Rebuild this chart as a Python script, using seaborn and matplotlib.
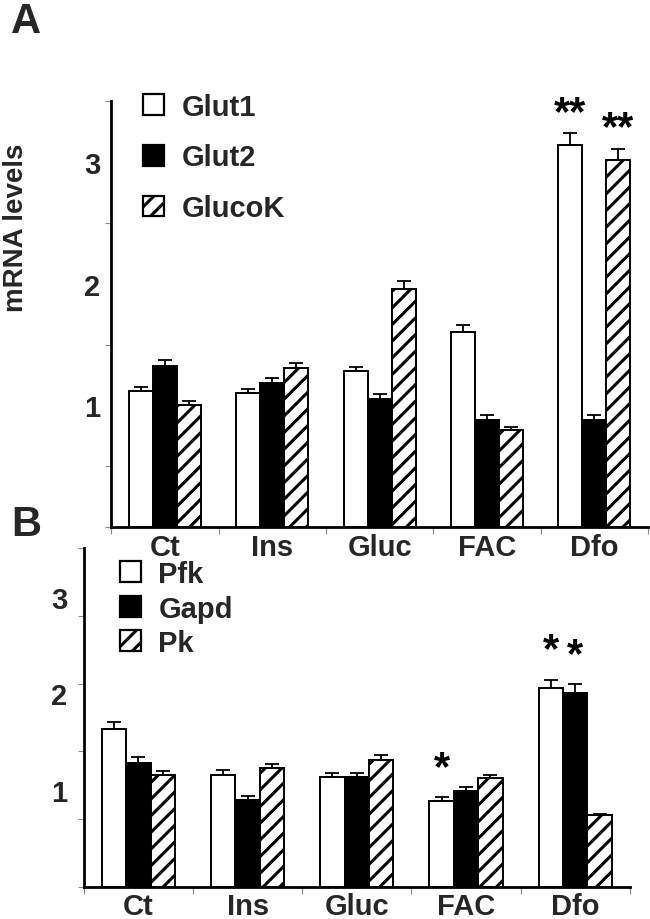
import numpy as np
import pandas as pd
import matplotlib
matplotlib.use("Agg")
import matplotlib.pyplot as plt
import seaborn as sns
from matplotlib.patches import Patch
from matplotlib.container import BarContainer

sns.set_theme(style="ticks")
plt.rcParams['font.family'] = ['Liberation Sans', 'DejaVu Sans']
plt.rcParams['font.weight'] = 'bold'
plt.rcParams['hatch.linewidth'] = 2.2
plt.rcParams['hatch.color'] = 'black'

categories = ["Ct", "Ins", "Gluc", "FAC", "Dfo"]

# Panel A
genes_a = ["Glut1", "Glut2", "GlucoK"]
glut1 = [1.12, 1.10, 1.28, 1.60, 3.14]
glut1_err = [0.035, 0.035, 0.035, 0.058, 0.095]
glut2 = [1.32, 1.18, 1.05, 0.88, 0.88]
glut2_err = [0.05, 0.045, 0.04, 0.037, 0.04]
glucok = [1.00, 1.31, 1.96, 0.80, 3.02]
glucok_err = [0.035, 0.04, 0.058, 0.024, 0.09]
stars_a = {("Dfo", "Glut1"): "**", ("Dfo", "GlucoK"): "**"}

# Panel B
genes_b = ["Pfk", "Gapd", "Pk"]
pfk = [1.63, 1.16, 1.13, 0.89, 2.06]
pfk_err = [0.07, 0.05, 0.045, 0.034, 0.083]
gapd = [1.28, 0.90, 1.13, 0.99, 2.00]
gapd_err = [0.062, 0.04, 0.047, 0.045, 0.097]
pk = [1.16, 1.23, 1.31, 1.12, 0.74]
pk_err = [0.034, 0.04, 0.048, 0.034, 0.014]
stars_b = {("FAC", "Pfk"): "*", ("Dfo", "Pfk"): "*", ("Dfo", "Gapd"): "*"}

yticklabels = ["1", "2", "3"]

FILLS = ["white", "black", "white"]
HATCHES = ["", "", "//"]
LABEL_FS = 21


def draw_panel(ax, genes, values, errs, stars, minor_y, star_off, legend_anchor,
               label_pad, leg_spacing, xlabel_pad):
    rows = []
    for g, vals, es in zip(genes, values, errs):
        for c, v, e in zip(categories, vals, es):
            rows.append((c, g, v, e))
    df = pd.DataFrame(rows, columns=["category", "gene", "value", "err"])
    sns.barplot(data=df, x="category", y="value", hue="gene", order=categories,
                hue_order=genes, palette=FILLS, saturation=1, width=0.67,
                edgecolor="black", linewidth=1.4, errorbar=None, legend=False,
                ax=ax, zorder=3)
    bar_conts = [c for c in ax.containers if isinstance(c, BarContainer)]
    for gi, cont in enumerate(bar_conts):
        xs, tops, es = [], [], []
        for bar, c in zip(cont, categories):
            bar.set_hatch(HATCHES[gi])
            bar.set_edgecolor("black")
            x = bar.get_x() + bar.get_width() / 2
            v = bar.get_height()
            e = df[(df.gene == genes[gi]) & (df.category == c)]["err"].iloc[0]
            xs.append(x); tops.append(v); es.append(e)
            key = (c, genes[gi])
            if key in stars:
                ax.text(x, v + e + star_off, stars[key], ha="center", va="center",
                        fontsize=30, fontweight="bold", color="black")
        ax.errorbar(xs, tops, yerr=[np.zeros(len(es)), es], fmt="none",
                    ecolor="black", elinewidth=1.3, capsize=5, capthick=1.3, zorder=2)

    ax.set_facecolor("none")
    ax.set_xlim(-0.5, 4.5)
    ax.set_ylim(0, 3.5)
    ax.set_xlabel("")
    ax.set_ylabel("")
    sns.despine(ax=ax)
    for s in ["left", "bottom"]:
        ax.spines[s].set_linewidth(2)
        ax.spines[s].set_color("black")
    ax.set_yticks([1, 2, 3])
    ax.set_yticklabels(yticklabels, fontsize=LABEL_FS, fontweight="bold")
    ax.set_yticks(minor_y, minor=True)
    ax.tick_params(axis="y", which="major", length=0, pad=label_pad)
    ax.tick_params(axis="y", which="minor", length=4, width=0.8, color="#888888")
    ax.set_xticks(range(len(categories)))
    ax.set_xticklabels(categories, fontsize=LABEL_FS, fontweight="bold")
    ax.set_xticks(np.arange(-0.5, 5, 1), minor=True)
    ax.tick_params(axis="x", which="major", length=0, pad=xlabel_pad)
    ax.tick_params(axis="x", which="minor", length=5, width=0.8, color="#888888")

    handles = [Patch(facecolor=f, edgecolor="black", hatch=h, linewidth=1.6)
               for f, h in zip(FILLS, HATCHES)]
    ax.legend(handles, genes, loc="upper left", bbox_to_anchor=legend_anchor,
              frameon=False, prop={"size": LABEL_FS, "weight": "bold"},
              handlelength=0.72, handleheight=0.72, handletextpad=0.6,
              labelspacing=leg_spacing, borderaxespad=0, borderpad=0)


fig = plt.figure(figsize=(6.5, 9.2), dpi=100)
ax_a = fig.add_axes([0.171, 0.426, 0.826, 0.463])
ax_b = fig.add_axes([0.129, 0.035, 0.84, 0.368])

draw_panel(ax_a, genes_a, [glut1, glut2, glucok], [glut1_err, glut2_err, glucok_err],
           stars_a, np.arange(0, 3.51, 0.5), 0.17, (0.06, 1.02), 8, 0.78, 4)
draw_panel(ax_b, genes_b, [pfk, gapd, pk], [pfk_err, gapd_err, pk_err],
           stars_b, np.arange(0, 3.51, 0.7), 0.3, (0.066, 0.965), 12, 0.22, 4)

fig.text(16 / 650, 1 - 228 / 920, "mRNA levels", rotation=90, fontsize=20,
         fontweight="bold", ha="center", va="center")

fig.text(0.04, 0.976, "A", fontsize=30, fontweight="bold", ha="center", va="center")
fig.text(0.04, 0.429, "B", fontsize=30, fontweight="bold", ha="center", va="center")

fig.savefig("out.png", dpi=100, facecolor="white")
